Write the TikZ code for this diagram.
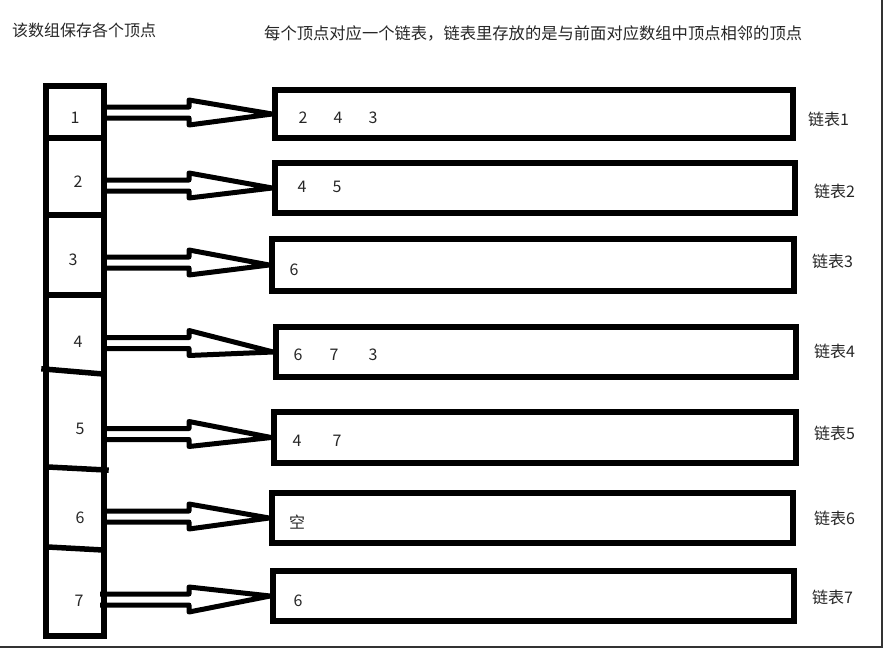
\documentclass[tikz,border=0pt]{standalone}
\usepackage{fontspec}
\setmainfont{Noto Sans CJK SC}
\usetikzlibrary{calc}
\newcommand\hollowarrow[2]{% #1 start coordinate, #2 tip anchor
  \draw[arr] let \p1=(#1), \p2=(#2) in
    (\x1,\y1+5.5pt) -- (189pt,\y1+5.5pt) -- (189pt,\y1+12.5pt) -- (\p2)
    -- (189pt,\y1-12.5pt) -- (189pt,\y1-5.5pt) -- (\x1,\y1-5.5pt);}
\begin{document}
\begin{tikzpicture}[x=1pt,y=-1pt,
  thickline/.style={line width=5.5pt, line cap=rect, line join=miter},
  listbox/.style={draw, line width=5.5pt, inner sep=0pt},
  txt/.style={font=\fontsize{16}{19}\selectfont, text=black!85, inner sep=0pt},
  arr/.style={draw, line width=5pt, line join=round}]
\useasboundingbox (0,0) rectangle (883,648);
\draw[line width=1.5pt, black!80] (882,0) -- (882,647) -- (0,647);

% titles
\node[txt, anchor=west] (t1) at (12,30) {该数组保存各个顶点};
\node[txt, anchor=west, font=\fontsize{16.3}{19}\selectfont] (t2) at (264,33) {每个顶点对应一个链表，链表里存放的是与前面对应数组中顶点相邻的顶点};

% array column
\draw[thickline] (46,86) rectangle (104,636);
\draw[thickline] (46,138) -- (104,138);
\draw[thickline] (46,215) -- (104,215);
\draw[thickline] (46,295) -- (104,295);
\draw[thickline] (44,369) -- (103,374);
\draw[thickline] (48,467) -- (106,470);
\draw[thickline] (48,547) -- (103,550);

\node[txt] (c1) at (75,118) {1};
\node[txt] (c2) at (78,182) {2};
\node[txt] (c3) at (73,260) {3};
\node[txt] (c4) at (78,342) {4};
\node[txt] (c5) at (80,429) {5};
\node[txt] (c6) at (80,518) {6};
\node[txt] (c7) at (79,601) {7};

% list boxes
\node[listbox, minimum width=518pt, minimum height=48pt] (l1) at (534,114) {};
\node[listbox, minimum width=520pt, minimum height=50pt] (l2) at (535,188) {};
\node[listbox, minimum width=522pt, minimum height=52pt] (l3) at (533,265) {};
\node[listbox, minimum width=520pt, minimum height=50pt] (l4) at (536,352) {};
\node[listbox, minimum width=522pt, minimum height=51pt] (l5) at (535,437.5) {};
\node[listbox, minimum width=521pt, minimum height=50pt] (l6) at (532.5,518) {};
\node[listbox, minimum width=521pt, minimum height=50pt] (l7) at (533.5,596) {};

% list contents
\node[txt] (l1a) at (303,118) {2};
\node[txt] (l1b) at (338,118) {4};
\node[txt] (l1c) at (373,118) {3};
\node[txt] (l2a) at (302,187) {4};
\node[txt] (l2b) at (337,187) {5};
\node[txt] (l3a) at (294,270) {6};
\node[txt] (l4a) at (298,355) {6};
\node[txt] (l4b) at (334,355) {7};
\node[txt] (l4c) at (373,355) {3};
\node[txt] (l5a) at (297,441) {4};
\node[txt] (l5b) at (337,441) {7};
\node[txt] (l6a) at (297,522) {空};
\node[txt] (l7a) at (298,601) {6};

% list labels
\node[txt, anchor=west] (n1) at (808,119) {链表1};
\node[txt, anchor=west] (n2) at (814,191) {链表2};
\node[txt, anchor=west] (n3) at (812,261) {链表3};
\node[txt, anchor=west] (n4) at (814,351) {链表4};
\node[txt, anchor=west] (n5) at (814,433) {链表5};
\node[txt, anchor=west] (n6) at (814,518) {链表6};
\node[txt, anchor=west] (n7) at (812,597) {链表7};

% arrow start points on the array edge
\coordinate (s1) at (104,112.5);
\coordinate (s2) at (104,185.5);
\coordinate (s3) at (104,262.5);
\coordinate (s4) at (104,343);
\coordinate (s5) at (104,434);
\coordinate (s6) at (104,516.5);
\coordinate (s7) at (100,599.5);

\hollowarrow{s1}{l1.west}
\hollowarrow{s2}{l2.west}
\hollowarrow{s3}{l3.west}
\hollowarrow{s4}{l4.west}
\hollowarrow{s5}{l5.west}
\hollowarrow{s6}{l6.west}
\hollowarrow{s7}{l7.west}
\end{tikzpicture}
\end{document}
